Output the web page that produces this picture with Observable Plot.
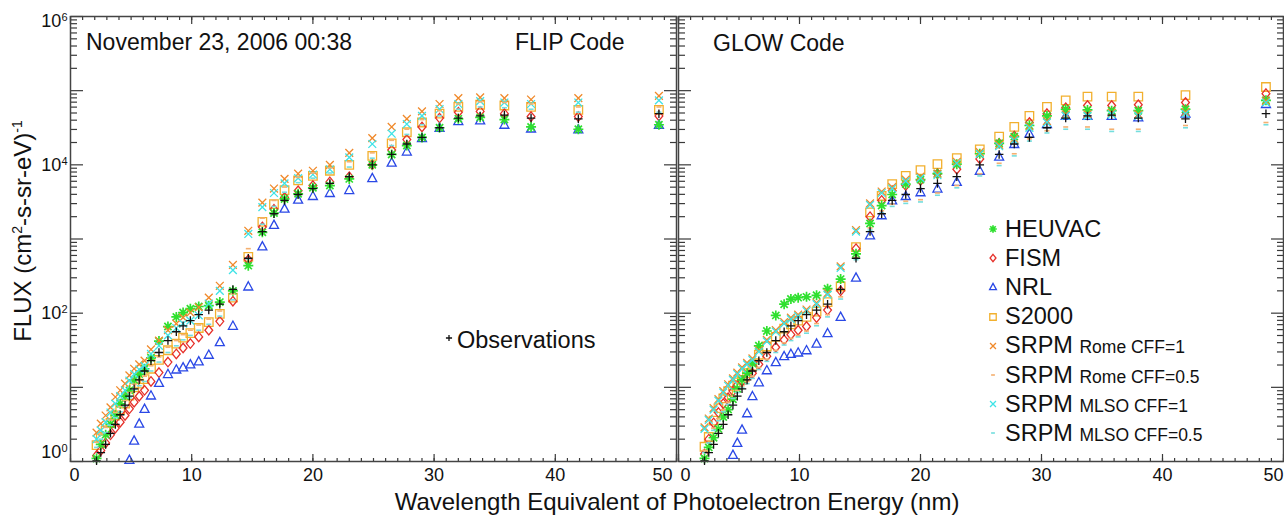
<!DOCTYPE html>
<html><head><meta charset="utf-8">
<script src="https://cdn.jsdelivr.net/npm/d3@7"></script>
<script src="https://cdn.jsdelivr.net/npm/@observablehq/plot@0.6"></script>
<style>
html,body{margin:0;padding:0;background:#fff;}
#chart{position:relative;width:1284px;height:516px;font-family:"Liberation Sans",Arial,Helvetica,sans-serif;color:#111;overflow:hidden;background:#fff;}
#chart svg.panel{position:absolute;top:0;overflow:visible;}
.lbl{position:absolute;white-space:nowrap;line-height:1;}
.sup{font-size:14px;position:relative;top:-9px;}
.sub{font-size:17.5px;}
</style></head><body><div id="chart"></div>
<script>
// ---- data: wavelength bins (nm) and flux values (cm^-2 s^-1 sr^-1 eV^-1) ----
const wavelength = [2.15,2.5,2.9,3.3,3.7,4.1,4.5,4.86,5.25,5.67,6.11,6.64,7.3,8.04,8.73,9.29,9.89,10.58,11.41,12.32,13.4,14.67,15.83,16.79,17.66,18.78,20.0,21.4,23.0,24.9,26.5,27.75,29.0,30.45,32.0,33.8,35.8,38.0,41.9,48.55];

const observations = [1.02,1.32,1.70,2.40,3.16,4.27,5.75,7.59,9.55,12.6,16.6,22.9,29.5,42.7,56.2,67.6,79.4,95.5,110,132,209,550,1260,2190,3310,3980,4790,5620,6920,10000,13800,19100,23400,31600,42700,45700,46800,42700,41700,49000];

// FLIP code
const flipHEUVAC = [1.1,1.7,2.3,3.2,4.2,6.0,7.6,9.1,12.6,15.1,17.8,25,42,66,89,102,115,123,126,141,200,437,1230,2240,3470,4070,4900,5250,6460,10000,13800,18200,23400,31600,41700,43700,40700,32400,30200,34700];
const flipFISM = [1.2,1.41,1.78,2.29,2.82,3.39,4.17,5.13,6.31,7.59,9.12,12.0,15.8,21.9,28.2,33.9,38.9,47.9,58.9,77.6,145,525,1450,2510,3630,4470,5250,5890,6920,10000,15800,21900,32400,42700,51300,52500,49000,44700,44700,45700];
const flipNRL = [null,null,null,null,null,null,null,1.05,1.91,3.24,5.13,7.76,11.5,15.1,17.4,18.6,20.4,22.4,27.5,40.7,67.6,229,794,1550,2570,3390,3800,4170,4570,6610,10700,15100,22900,31600,38900,39800,34700,30900,30200,34700];
const flipS2000 = [1.66,2.14,2.63,3.31,4.17,5.01,6.03,7.76,10.0,11.2,12.9,17.8,23.4,31.6,38.9,46.8,53.7,63.1,75.9,97.7,162,575,1700,2950,4570,6170,7080,8320,10000,13200,19500,27500,37200,49000,60300,64600,63100,60300,55000,55000];
const flipRomeCFF1 = [2.45,3.24,4.17,5.37,7.41,9.12,11.2,14.5,17.8,20.4,22.9,32.4,42.7,58.9,72.4,87.1,102,120,162,234,447,1290,3090,4790,6460,7590,8320,10000,14500,22900,32400,41700,52500,66100,79400,81300,79400,75900,79400,85100];
const flipRomeCFF05 = [1.82,2.34,2.88,3.63,4.57,5.50,6.61,8.51,11.0,12.3,14.1,19.5,25.7,34.7,42.7,51.3,58.9,69.2,83.2,107,182,741,1910,3310,5010,6760,7760,9120,11000,14500,21400,30200,40700,53700,66100,70800,69200,66100,60300,60300];
const flipMLSOCFF1 = [2.0,2.63,3.39,4.57,6.03,7.59,9.12,12.3,15.1,17.4,19.5,28.2,36.3,50.1,63.1,72.4,79.4,93.3,135,200,380,1170,2690,4170,5620,6610,7410,8710,12600,19100,26300,35500,45700,56200,66100,72400,69200,66100,69200,74100];
const flipMLSOCFF05 = [1.55,2.0,2.45,3.09,3.89,4.68,5.62,7.24,9.33,10.5,12.0,16.6,21.9,29.5,36.3,43.7,50.1,58.9,70.8,91.2,151,537,1580,2750,4270,5750,6610,7760,9330,12300,18200,25700,34700,45700,56200,60300,58900,56200,51300,51300];

// GLOW code
const glowHEUVAC = [1.10,1.55,2.09,2.75,3.98,5.01,6.92,9.55,12.6,15.5,20.9,36.3,57.5,93.3,132,155,162,166,174,214,288,631,1620,2820,3980,5500,6310,7590,10200,14100,19500,24000,33900,45700,56200,55000,53700,53700,56200,74100];
const glowFISM = [1.26,2.0,3.31,4.57,6.03,7.24,8.91,10.7,12.0,13.8,15.5,20.4,26.3,34.7,43.7,51.3,58.9,66.1,87.1,110,200,741,2000,3310,4470,5250,6170,7590,8710,12000,19500,24500,37200,49000,58900,63100,63100,64600,69200,91200];
const glowNRL = [null,null,null,null,null,null,1.23,1.78,2.69,4.47,7.59,11.7,17.0,21.9,26.3,28.2,29.5,31.6,38.9,53.7,89.1,302,1120,2090,3310,3800,4270,4790,5890,8320,12900,19100,26300,35500,45700,45700,45700,43700,49000,66100];
const glowS2000 = [1.58,2.14,3.55,5.25,7.08,8.91,10.5,11.7,12.6,15.5,19.5,27.5,35.5,47.9,61.7,70.8,79.4,89.1,105,141,229,776,2290,3800,5500,7080,8510,10200,12300,16200,24000,32400,45700,60300,74100,83200,83200,83200,87100,112000];
const glowRomeCFF1 = [2.88,3.80,5.25,6.92,8.91,11.0,13.2,15.8,18.6,21.4,24.5,31.6,43.7,58.9,75.9,87.1,95.5,112,138,186,427,1320,3020,4370,5010,6310,6920,7590,11000,14800,18600,22400,33100,38900,47900,47900,50100,47900,51300,72400];
const glowRomeCFF05 = [1.41,1.91,2.82,3.80,5.01,6.31,7.59,9.12,10.5,12.0,14.1,18.6,24.0,31.6,39.8,45.7,50.1,57.5,72.4,95.5,166,562,1410,2400,2950,3240,3390,4170,5250,7590,10500,14100,22400,28800,32400,32400,30200,30200,33900,37200];
const glowMLSOCFF1 = [2.75,3.63,5.01,6.61,8.51,10.5,12.6,15.1,17.8,20.4,23.4,30.2,41.7,56.2,72.4,83.2,91.2,107,132,178,407,1260,2880,4170,4790,6030,6610,7240,10500,14100,17800,21400,31600,37200,45700,45700,47900,45700,49000,69200];
const glowMLSOCFF05 = [1.32,1.78,2.63,3.55,4.68,5.89,7.08,8.51,9.77,11.2,13.2,17.4,22.4,29.5,37.2,42.7,47.9,53.7,67.6,89.1,155,525,1320,2240,2750,3020,3160,3890,4900,7080,9770,13200,20900,26900,30200,30200,28200,28200,31600,34700];

const xMajor = [0,10,20,30,40,50];
const yMajor = [1,10,100,1e3,1e4,1e5,1e6];
const panelTitles = {left: "November 23, 2006 00:38", flip: "FLIP Code", glow: "GLOW Code"};
const xLabel = "Wavelength Equivalent of Photoelectron Energy (nm)";

// ---- styles ----
function sym(f){ return {draw(c, size){ f(c, Math.sqrt(size / Math.PI)); }}; }
const SYM = {
  star: sym((c,r)=>{ c.moveTo(-r,0);c.lineTo(r,0);c.moveTo(0,-r);c.lineTo(0,r); const a=r*0.72; c.moveTo(-a,-a);c.lineTo(a,a);c.moveTo(-a,a);c.lineTo(a,-a); }),
  diamond: sym((c,r)=>{ c.moveTo(0,-r*0.95);c.lineTo(r*0.78,0);c.lineTo(0,r*0.95);c.lineTo(-r*0.78,0);c.closePath(); }),
  triangle: sym((c,r)=>{ c.moveTo(0,-r*0.95);c.lineTo(r*0.9,r*0.7);c.lineTo(-r*0.9,r*0.7);c.closePath(); }),
  square: sym((c,r)=>{ const a=r*0.85; c.moveTo(-a,-a);c.lineTo(a,-a);c.lineTo(a,a);c.lineTo(-a,a);c.closePath(); }),
  times: sym((c,r)=>{ const a=r*0.78; c.moveTo(-a,-a);c.lineTo(a,a);c.moveTo(-a,a);c.lineTo(a,-a); }),
  dash: sym((c,r)=>{ c.moveTo(-r*0.5,0);c.lineTo(r*0.5,0); }),
  plus: sym((c,r)=>{ const a=r*0.85; c.moveTo(-a,0);c.lineTo(a,0);c.moveTo(0,-a);c.lineTo(0,a); })
};
const STYLE = {
  S2000:    {symbol: SYM.square,   color: "#f2b02e", sw: 1.3},
  FISM:     {symbol: SYM.diamond,  color: "#e6302a", sw: 1.3},
  NRL:      {symbol: SYM.triangle, color: "#2a48e6", sw: 1.3},
  HEUVAC:   {symbol: SYM.star,     color: "#2fe02f", sw: 1.7},
  RomeCFF1: {symbol: SYM.times,    color: "#f0892a", sw: 1.3},
  MLSOCFF1: {symbol: SYM.times,    color: "#3fe3e6", sw: 1.3},
  RomeCFF05:{symbol: SYM.dash,     color: "#f4b070", sw: 1.6},
  MLSOCFF05:{symbol: SYM.dash,     color: "#74dede", sw: 1.6},
  Obs:      {symbol: SYM.plus,     color: "#111111", sw: 1.3}
};
const drawOrder = ["S2000","FISM","NRL","HEUVAC","RomeCFF1","MLSOCFF1","RomeCFF05","MLSOCFF05","Obs"];

const flip = {HEUVAC: flipHEUVAC, FISM: flipFISM, NRL: flipNRL, S2000: flipS2000, RomeCFF1: flipRomeCFF1, RomeCFF05: flipRomeCFF05, MLSOCFF1: flipMLSOCFF1, MLSOCFF05: flipMLSOCFF05, Obs: observations};
const glow = {HEUVAC: glowHEUVAC, FISM: glowFISM, NRL: glowNRL, S2000: glowS2000, RomeCFF1: glowRomeCFF1, RomeCFF05: glowRomeCFF05, MLSOCFF1: glowMLSOCFF1, MLSOCFF05: glowMLSOCFF05, Obs: observations};

const FONT = '"Liberation Sans", Arial, Helvetica, sans-serif';
const HEIGHT = 516, MT = 16, MB = 55;
const TICK = "#3a3a3a";
const xMinor = d3.range(0, 51);
const yMinor = yMajor.slice(0, -1).flatMap(d => d3.range(2, 10).map(k => k * d));

function makePanel(panel, width, mL, mR, withYLabels, ends){
  const iw = width - mL - mR, ih = HEIGHT - MT - MB;
  const marks = [];
  for (const key of drawOrder) {
    const s = STYLE[key];
    const rows = [];
    panel[key].forEach((v, i) => { if (v != null) rows.push({x: wavelength[i], y: v}); });
    marks.push(Plot.dot(rows, {x: "x", y: "y", r: 5, symbol: s.symbol, stroke: s.color, fill: "none", strokeWidth: s.sw}));
  }
  const tk = {stroke: TICK, strokeWidth: 1.2, tickFormat: () => "", label: null};
  marks.push(
    Plot.axisX(xMinor, {anchor: "top", dy: ih, tickSize: 4, ...tk}),
    Plot.axisX(xMajor, {anchor: "top", dy: ih, tickSize: 8, ...tk}),
    Plot.axisX(xMinor, {anchor: "bottom", dy: -ih, tickSize: 4, ...tk}),
    Plot.axisX(xMajor, {anchor: "bottom", dy: -ih, tickSize: 8, ...tk}),
    Plot.axisY(yMinor, {anchor: "right", dx: -iw, tickSize: 6, ...tk}),
    Plot.axisY(yMajor, {anchor: "right", dx: -iw, tickSize: 12, ...tk}),
    Plot.axisY(yMinor, {anchor: "left", dx: iw, tickSize: 6, ...tk}),
    Plot.axisY(yMajor, {anchor: "left", dx: iw, tickSize: 12, ...tk}),
    Plot.frame({stroke: "#444", strokeWidth: 1.5}),
    Plot.axisX(xMajor.slice(1, -1), {anchor: "bottom", tickSize: 0, tickPadding: 7, label: null}),
    Plot.axisX(xMajor.slice(0, 1), {anchor: "bottom", tickSize: 0, tickPadding: 7, dx: ends[0], label: null}),
    Plot.axisX(xMajor.slice(-1), {anchor: "bottom", tickSize: 0, tickPadding: 7, dx: ends[1], label: null})
  );
  if (withYLabels) {
    const fmt = d => { const e = Math.round(Math.log10(d)); return e % 2 === 0 ? `10^${e}` : ""; };
    marks.push(
      Plot.axisY(yMajor.slice(1, -1), {anchor: "left", tickSize: 0, tickPadding: 3, tickFormat: fmt, label: null}),
      Plot.axisY(yMajor.slice(0, 1), {anchor: "left", tickSize: 0, tickPadding: 3, dy: -9, tickFormat: fmt, label: null}),
      Plot.axisY(yMajor.slice(-1), {anchor: "left", tickSize: 0, tickPadding: 3, dy: 5, tickFormat: fmt, label: null})
    );
  }
  const svg = Plot.plot({
    width, height: HEIGHT, marginLeft: mL, marginRight: mR, marginTop: MT, marginBottom: MB,
    x: {domain: [0, 50], axis: null},
    y: {type: "log", domain: [1, 1e6], axis: null},
    style: {fontFamily: FONT, fontSize: "18px", color: "#111", background: "transparent", overflow: "visible"},
    marks
  });
  d3.select(svg).selectAll("text").each(function(){
    const m = /^10\^(\d+)$/.exec(this.textContent);
    if (m) { this.textContent = "10"; d3.select(this).append("tspan").attr("dy", -6).attr("font-size", 11).text(m[1]); }
  });
  svg.classList.add("panel");
  return svg;
}

const chart = document.getElementById("chart");
const L = makePanel(flip, 677, 70, 1, true, [4, -14]);
L.style.left = "0px";
const R = makePanel(glow, 607, 1, 1, false, [7, -10]);
R.style.left = "677px";
chart.appendChild(L);
chart.appendChild(R);

function addLabel(html, css){
  const d = document.createElement("div");
  d.className = "lbl"; d.innerHTML = html; Object.assign(d.style, css); chart.appendChild(d); return d;
}
addLabel(panelTitles.left, {left: "86px", top: "31px", fontSize: "23px"});
addLabel(panelTitles.flip, {left: "515px", top: "31px", fontSize: "23px"});
addLabel(panelTitles.glow, {left: "713px", top: "32px", fontSize: "23px"});
addLabel(xLabel, {left: "677px", top: "490px", fontSize: "24px", transform: "translateX(-50%)"});
addLabel('FLUX (cm<span class="sup">2</span>-s-sr-eV)<span class="sup">-1</span>',
  {left: "23px", top: "231px", fontSize: "24px", transform: "translate(-50%,-50%) rotate(-90deg)"});

function icon(key, cx, cy, r){
  const s = STYLE[key];
  const p = d3.symbol().type(s.symbol).size(Math.PI * r * r)();
  const d = document.createElement("div");
  d.className = "lbl";
  Object.assign(d.style, {left: (cx - 8) + "px", top: (cy - 8) + "px", width: "16px", height: "16px"});
  d.innerHTML = `<svg width="16" height="16"><path transform="translate(8,8)" d="${p}" fill="none" stroke="${s.color}" stroke-width="${s.sw}"/></svg>`;
  chart.appendChild(d);
}
// observations label in left panel
icon("Obs", 449, 338, 3.6);
addLabel("Observations", {left: "457px", top: "329px", fontSize: "23.5px"});

// legend in right panel
const legendEntries = [
  {key: "HEUVAC", main: "HEUVAC", sub: ""},
  {key: "FISM", main: "FISM", sub: ""},
  {key: "NRL", main: "NRL", sub: ""},
  {key: "S2000", main: "S2000", sub: ""},
  {key: "RomeCFF1", main: "SRPM", sub: "Rome CFF=1"},
  {key: "RomeCFF05", main: "SRPM", sub: "Rome CFF=0.5"},
  {key: "MLSOCFF1", main: "SRPM", sub: "MLSO CFF=1"},
  {key: "MLSOCFF05", main: "SRPM", sub: "MLSO CFF=0.5"}
];
legendEntries.forEach((e, i) => {
  const cy = 229 + i * 29.2;
  icon(e.key, 993, cy, 3.8);
  addLabel(e.main + (e.sub ? ` <span class="sub">${e.sub}</span>` : ""), {left: "1005px", top: (cy - 11.5) + "px", fontSize: "23.5px"});
});
</script>
</body></html>
